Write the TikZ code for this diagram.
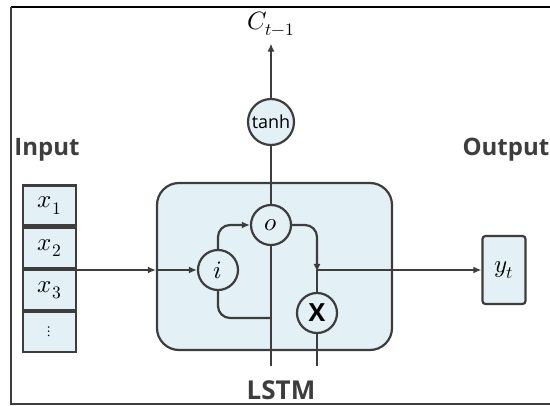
\documentclass[tikz,border=0pt]{standalone}
\usepackage{amsmath}
\usepackage{fontspec}
\usepackage{unicode-math}
\setsansfont{Open Sans}
\usepackage{xcolor}
\usetikzlibrary{arrows.meta,positioning}

\definecolor{cellblue}{HTML}{E3F0F5}
\definecolor{linegray}{HTML}{3D3D3D}

\begin{document}
\begin{tikzpicture}[x=1pt,y=-1pt,
    wire/.style={draw=linegray, line width=2.2pt},
    tip/.style={-{Latex[length=8pt,width=7pt]}},
    gate/.style={circle, draw=linegray, line width=2.2pt, fill=cellblue,
        minimum size=40pt, inner sep=0pt},
    xcell/.style={draw=linegray, line width=2.2pt, fill=cellblue,
        minimum width=53pt, minimum height=40pt, inner sep=0pt},
    mathtext/.style={font=\fontsize{25}{27}\selectfont},
    title/.style={font=\sffamily\bfseries\fontsize{24}{27}\selectfont, text=linegray}]

        \useasboundingbox (0,0) rectangle (550,406);

        % --- frame ---
        \draw[line width=2pt, black] (550,7) -- (11,7);
        \draw[line width=2pt, linegray] (11,7) -- (11,404) -- (550,404);

        % --- LSTM block ---
        \node[draw=linegray, line width=2.2pt, fill=cellblue, rounded corners=22pt,
            minimum width=235pt, minimum height=167pt] (lstm) at (274.5,266.5) {};
        \node[gate, mathtext] (i) at (218,270) {$i$};
        \node[gate, mathtext] (o) at (271,225) {$o$};
        \node[gate, font=\sffamily\bfseries\fontsize{25}{27}\selectfont] (mul) at (317,313) {X};
        \node[gate, minimum size=46pt, font=\sffamily\fontsize{18}{20}\selectfont] (tanh) at (271,122) {tanh};
        \node[mathtext] (ct) at (271,24) {$C_{t-1}$};
        \coordinate (j) at (317,270);
        \coordinate (jb) at (271,318);
        \coordinate (inA) at (271,366);
        \coordinate (inB) at (317,366);

        % --- input column ---
        \node[title] (inlabel) at (47,150) {Input};
        \node[xcell, mathtext] (x1) at (49.5,205.5) {$x_1$};
        \node[xcell, mathtext, below=0pt of x1] (x2) {$x_2$};
        \node[xcell, mathtext, below=0pt of x2] (x3) {$x_3$};
        \node[xcell, font=\fontsize{15}{16}\selectfont, below=0pt of x3] (x4) {$\vdots$};

        % --- output ---
        \node[title, anchor=west] (outlabel) at (459,150) {Output};
        \node[draw=linegray, line width=2.2pt, fill=cellblue, rounded corners=3pt,
            minimum width=43pt, minimum height=68pt, mathtext] (yt) at (504,270) {$y_t$};
        \node[title, font=\sffamily\bfseries\fontsize{26}{28}\selectfont] (lstmlabel) at (281,390) {LSTM};

        % --- wires ---
        \draw[wire, tip] (x3.east |- i) -- (lstm.west |- i);
        \draw[wire, tip] (lstm.west |- i) -- (i.west);
        \draw[wire, tip, rounded corners=12pt] (i.north) |- (o.west);
        \draw[wire, rounded corners=12pt] (i.south) |- (jb);
        \draw[wire] (o.south) -- (inA);
        \draw[wire] (o.north) -- (tanh.south);
        \draw[wire, tip] (tanh.north) -- ([yshift=-4pt]ct.south);
        \draw[wire, tip, rounded corners=12pt] (o.east) -| ([yshift=-2pt]j);
        \draw[wire] (j) -- (mul.north);
        \draw[wire, tip] (j) -- (yt.west);
        \draw[wire] (mul.south) -- (inB);
    \end{tikzpicture}
\end{document}
